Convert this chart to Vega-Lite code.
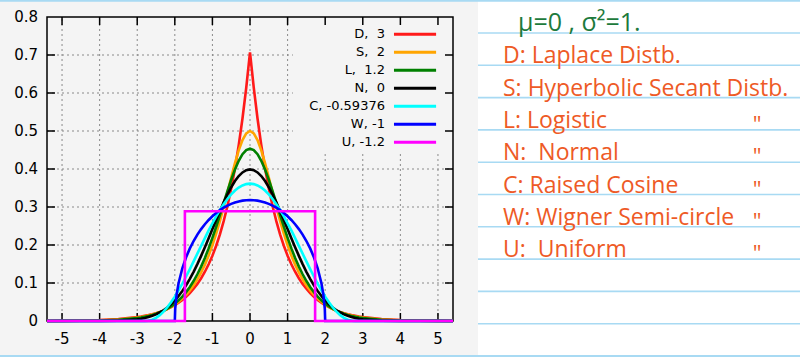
{
  "$schema": "https://vega.github.io/schema/vega-lite/v6.json",
  "width": 800,
  "height": 357,
  "autosize": {"type": "none"},
  "padding": 0,
  "background": "white",
  "config": {"view": {"stroke": null}},
  "datasets": {
    "one": [{}],
    "curves": [
      {"x":-5.4,"D":0.0003,"S":0.0002,"L":0.0001,"N":0,"C":0,"W":0},
      {"x":-5.0,"D":0.0006,"S":0.0004,"L":0.0002,"N":0,"C":0,"W":0},
      {"x":-4.5,"D":0.0012,"S":0.0009,"L":0.0005,"N":0,"C":0,"W":0},
      {"x":-4.0,"D":0.0025,"S":0.0019,"L":0.0013,"N":0.0001,"C":0,"W":0},
      {"x":-3.5,"D":0.0050,"S":0.0041,"L":0.0032,"N":0.0009,"C":0,"W":0},
      {"x":-3.0,"D":0.0102,"S":0.0090,"L":0.0078,"N":0.0044,"C":0,"W":0},
      {"x":-2.9,"D":0.0117,"S":0.0105,"L":0.0093,"N":0.0060,"C":0,"W":0},
      {"x":-2.8,"D":0.0135,"S":0.0123,"L":0.0112,"N":0.0079,"C":0,"W":0},
      {"x":-2.7,"D":0.0155,"S":0.0144,"L":0.0133,"N":0.0104,"C":0.0005,"W":0},
      {"x":-2.6,"D":0.0179,"S":0.0168,"L":0.0159,"N":0.0136,"C":0.0032,"W":0},
      {"x":-2.5,"D":0.0206,"S":0.0197,"L":0.0191,"N":0.0175,"C":0.0082,"W":0},
      {"x":-2.4,"D":0.0237,"S":0.0230,"L":0.0228,"N":0.0224,"C":0.0154,"W":0},
      {"x":-2.3,"D":0.0273,"S":0.0270,"L":0.0271,"N":0.0283,"C":0.0247,"W":0},
      {"x":-2.2,"D":0.0315,"S":0.0315,"L":0.0323,"N":0.0355,"C":0.0361,"W":0},
      {"x":-2.1,"D":0.0363,"S":0.0369,"L":0.0385,"N":0.0440,"C":0.0493,"W":0},
      {"x":-2.0,"D":0.0418,"S":0.0431,"L":0.0458,"N":0.0540,"C":0.0642,"W":0},
      {"x":-1.99,"D":0.0424,"S":0.0438,"L":0.0465,"N":0.0551,"C":0.0658,"W":0.0318},
      {"x":-1.95,"D":0.0449,"S":0.0466,"L":0.0498,"N":0.0596,"C":0.0723,"W":0.0707},
      {"x":-1.9,"D":0.0481,"S":0.0504,"L":0.0543,"N":0.0656,"C":0.0806,"W":0.0994},
      {"x":-1.8,"D":0.0555,"S":0.0590,"L":0.0643,"N":0.0790,"C":0.0984,"W":0.1387},
      {"x":-1.7,"D":0.0639,"S":0.0689,"L":0.0760,"N":0.0940,"C":0.1171,"W":0.1677},
      {"x":-1.6,"D":0.0736,"S":0.0805,"L":0.0895,"N":0.1109,"C":0.1367,"W":0.1910},
      {"x":-1.5,"D":0.0848,"S":0.0939,"L":0.1051,"N":0.1295,"C":0.1568,"W":0.2105},
      {"x":-1.4,"D":0.0976,"S":0.1096,"L":0.1230,"N":0.1497,"C":0.1773,"W":0.2273},
      {"x":-1.3,"D":0.1125,"S":0.1276,"L":0.1432,"N":0.1714,"C":0.1978,"W":0.2419},
      {"x":-1.2,"D":0.1296,"S":0.1484,"L":0.1660,"N":0.1942,"C":0.2182,"W":0.2546},
      {"x":-1.1,"D":0.1492,"S":0.1722,"L":0.1911,"N":0.2179,"C":0.2383,"W":0.2658},
      {"x":-1.0,"D":0.1719,"S":0.1993,"L":0.2186,"N":0.2420,"C":0.2572,"W":0.2757},
      {"x":-0.9,"D":0.1980,"S":0.2297,"L":0.2481,"N":0.2661,"C":0.2752,"W":0.2843},
      {"x":-0.8,"D":0.2281,"S":0.2633,"L":0.2790,"N":0.2897,"C":0.2920,"W":0.2917},
      {"x":-0.7,"D":0.2628,"S":0.2998,"L":0.3105,"N":0.3123,"C":0.3074,"W":0.2982},
      {"x":-0.6,"D":0.3027,"S":0.3382,"L":0.3418,"N":0.3332,"C":0.3212,"W":0.3036},
      {"x":-0.5,"D":0.3487,"S":0.3775,"L":0.3716,"N":0.3521,"C":0.3331,"W":0.3082},
      {"x":-0.4,"D":0.4016,"S":0.4153,"L":0.3986,"N":0.3683,"C":0.3432,"W":0.3119},
      {"x":-0.3,"D":0.4626,"S":0.4492,"L":0.4215,"N":0.3814,"C":0.3511,"W":0.3147},
      {"x":-0.2,"D":0.5329,"S":0.4763,"L":0.4389,"N":0.3910,"C":0.3568,"W":0.3167},
      {"x":-0.1,"D":0.6139,"S":0.4939,"L":0.4497,"N":0.3970,"C":0.3603,"W":0.3179},
      {"x":0,"D":0.7071,"S":0.5,"L":0.4534,"N":0.3989,"C":0.3615,"W":0.3183},
      {"x":0.1,"D":0.6139,"S":0.4939,"L":0.4497,"N":0.3970,"C":0.3603,"W":0.3179},
      {"x":0.2,"D":0.5329,"S":0.4763,"L":0.4389,"N":0.3910,"C":0.3568,"W":0.3167},
      {"x":0.3,"D":0.4626,"S":0.4492,"L":0.4215,"N":0.3814,"C":0.3511,"W":0.3147},
      {"x":0.4,"D":0.4016,"S":0.4153,"L":0.3986,"N":0.3683,"C":0.3432,"W":0.3119},
      {"x":0.5,"D":0.3487,"S":0.3775,"L":0.3716,"N":0.3521,"C":0.3331,"W":0.3082},
      {"x":0.6,"D":0.3027,"S":0.3382,"L":0.3418,"N":0.3332,"C":0.3212,"W":0.3036},
      {"x":0.7,"D":0.2628,"S":0.2998,"L":0.3105,"N":0.3123,"C":0.3074,"W":0.2982},
      {"x":0.8,"D":0.2281,"S":0.2633,"L":0.2790,"N":0.2897,"C":0.2920,"W":0.2917},
      {"x":0.9,"D":0.1980,"S":0.2297,"L":0.2481,"N":0.2661,"C":0.2752,"W":0.2843},
      {"x":1.0,"D":0.1719,"S":0.1993,"L":0.2186,"N":0.2420,"C":0.2572,"W":0.2757},
      {"x":1.1,"D":0.1492,"S":0.1722,"L":0.1911,"N":0.2179,"C":0.2383,"W":0.2658},
      {"x":1.2,"D":0.1296,"S":0.1484,"L":0.1660,"N":0.1942,"C":0.2182,"W":0.2546},
      {"x":1.3,"D":0.1125,"S":0.1276,"L":0.1432,"N":0.1714,"C":0.1978,"W":0.2419},
      {"x":1.4,"D":0.0976,"S":0.1096,"L":0.1230,"N":0.1497,"C":0.1773,"W":0.2273},
      {"x":1.5,"D":0.0848,"S":0.0939,"L":0.1051,"N":0.1295,"C":0.1568,"W":0.2105},
      {"x":1.6,"D":0.0736,"S":0.0805,"L":0.0895,"N":0.1109,"C":0.1367,"W":0.1910},
      {"x":1.7,"D":0.0639,"S":0.0689,"L":0.0760,"N":0.0940,"C":0.1171,"W":0.1677},
      {"x":1.8,"D":0.0555,"S":0.0590,"L":0.0643,"N":0.0790,"C":0.0984,"W":0.1387},
      {"x":1.9,"D":0.0481,"S":0.0504,"L":0.0543,"N":0.0656,"C":0.0806,"W":0.0994},
      {"x":1.95,"D":0.0449,"S":0.0466,"L":0.0498,"N":0.0596,"C":0.0723,"W":0.0707},
      {"x":1.99,"D":0.0424,"S":0.0438,"L":0.0465,"N":0.0551,"C":0.0658,"W":0.0318},
      {"x":2.0,"D":0.0418,"S":0.0431,"L":0.0458,"N":0.0540,"C":0.0642,"W":0},
      {"x":2.1,"D":0.0363,"S":0.0369,"L":0.0385,"N":0.0440,"C":0.0493,"W":0},
      {"x":2.2,"D":0.0315,"S":0.0315,"L":0.0323,"N":0.0355,"C":0.0361,"W":0},
      {"x":2.3,"D":0.0273,"S":0.0270,"L":0.0271,"N":0.0283,"C":0.0247,"W":0},
      {"x":2.4,"D":0.0237,"S":0.0230,"L":0.0228,"N":0.0224,"C":0.0154,"W":0},
      {"x":2.5,"D":0.0206,"S":0.0197,"L":0.0191,"N":0.0175,"C":0.0082,"W":0},
      {"x":2.6,"D":0.0179,"S":0.0168,"L":0.0159,"N":0.0136,"C":0.0032,"W":0},
      {"x":2.7,"D":0.0155,"S":0.0144,"L":0.0133,"N":0.0104,"C":0.0005,"W":0},
      {"x":2.8,"D":0.0135,"S":0.0123,"L":0.0112,"N":0.0079,"C":0,"W":0},
      {"x":2.9,"D":0.0117,"S":0.0105,"L":0.0093,"N":0.0060,"C":0,"W":0},
      {"x":3.0,"D":0.0102,"S":0.0090,"L":0.0078,"N":0.0044,"C":0,"W":0},
      {"x":3.5,"D":0.0050,"S":0.0041,"L":0.0032,"N":0.0009,"C":0,"W":0},
      {"x":4.0,"D":0.0025,"S":0.0019,"L":0.0013,"N":0.0001,"C":0,"W":0},
      {"x":4.5,"D":0.0012,"S":0.0009,"L":0.0005,"N":0,"C":0,"W":0},
      {"x":5.0,"D":0.0006,"S":0.0004,"L":0.0002,"N":0,"C":0,"W":0},
      {"x":5.4,"D":0.0003,"S":0.0002,"L":0.0001,"N":0,"C":0,"W":0}
    ],
    "uni": [
      {"i":0,"x":-5.4,"y":0},
      {"i":1,"x":-1.732,"y":0},
      {"i":2,"x":-1.732,"y":0.2887},
      {"i":3,"x":1.732,"y":0.2887},
      {"i":4,"x":1.732,"y":0},
      {"i":5,"x":5.4,"y":0}
    ],
    "xt": [{"v":-5},{"v":-4},{"v":-3},{"v":-2},{"v":-1},{"v":0},{"v":1},{"v":2},{"v":3},{"v":4},{"v":5}],
    "yt": [{"v":0.1},{"v":0.2},{"v":0.3},{"v":0.4},{"v":0.5},{"v":0.6},{"v":0.7}],
    "yl": [{"v":0},{"v":0.1},{"v":0.2},{"v":0.3},{"v":0.4},{"v":0.5},{"v":0.6},{"v":0.7},{"v":0.8}],
    "leg": [
      {"s":"D","label":"D, \u00a03"},
      {"s":"S","label":"S, \u00a02"},
      {"s":"L","label":"L, \u00a01.2"},
      {"s":"N","label":"N, \u00a00"},
      {"s":"C","label":"C, -0.59376"},
      {"s":"W","label":"W, -1"},
      {"s":"U","label":"U, -1.2"}
    ],
    "notes": [
      {"k":2,"t":"D: Laplace Distb."},
      {"k":3,"t":"S: Hyperbolic Secant Distb."},
      {"k":4,"t":"L: Logistic"},
      {"k":5,"t":"N:\u00a0 Normal"},
      {"k":6,"t":"C: Raised Cosine"},
      {"k":7,"t":"W: Wigner Semi-circle"},
      {"k":8,"t":"U:\u00a0 Uniform"}
    ],
    "ditto": [{"k":4},{"k":5},{"k":6},{"k":7},{"k":8}],
    "rl": [{"k":1},{"k":2},{"k":3},{"k":4},{"k":5},{"k":6},{"k":7},{"k":8},{"k":9},{"k":10}],
    "rb": [{"k":0},{"k":11}]
  },
  "layer": [
    {
      "data": {"name": "one"},
      "mark": {"type": "rect", "fill": "#f4f4f4"},
      "encoding": {
        "x": {"datum": -478, "type": "quantitative", "scale": {"domain": [0, 322], "range": [478, 800], "nice": false, "zero": false}, "axis": null},
        "x2": {"datum": 0},
        "y": {"datum": -0.1, "type": "quantitative", "scale": {"domain": [0, 11], "range": [0.7, 356], "nice": false, "zero": false}, "axis": null},
        "y2": {"datum": 11.1}
      }
    },
    {
      "data": {"name": "rl"},
      "mark": {"type": "rule", "color": "#a8daf3", "strokeWidth": 1.6},
      "encoding": {
        "x": {"datum": 0, "type": "quantitative", "scale": {"domain": [0, 322], "range": [478, 800], "nice": false, "zero": false}, "axis": null},
        "x2": {"datum": 322},
        "y": {"field": "k", "type": "quantitative", "scale": {"domain": [0, 11], "range": [0.7, 356], "nice": false, "zero": false}, "axis": null}
      }
    },
    {
      "data": {"name": "rb"},
      "mark": {"type": "rule", "color": "#a8daf3", "strokeWidth": 2},
      "encoding": {
        "x": {"datum": -478, "type": "quantitative", "scale": {"domain": [0, 322], "range": [478, 800], "nice": false, "zero": false}, "axis": null},
        "x2": {"datum": 322},
        "y": {"field": "k", "type": "quantitative", "scale": {"domain": [0, 11], "range": [0.7, 356], "nice": false, "zero": false}, "axis": null}
      }
    },
    {
      "data": {"name": "one"},
      "mark": {"type": "text", "text": "μ=0 , σ²=1.", "align": "left", "baseline": "alphabetic", "dy": -2, "font": "Open Sans", "fontSize": 25, "color": "#1d7a3c"},
      "encoding": {
        "x": {"datum": 40, "type": "quantitative", "scale": {"domain": [0, 322], "range": [478, 800], "nice": false, "zero": false}, "axis": null},
        "y": {"datum": 1, "type": "quantitative", "scale": {"domain": [0, 11], "range": [0.7, 356], "nice": false, "zero": false}, "axis": null}
      }
    },
    {
      "data": {"name": "notes"},
      "mark": {"type": "text", "align": "left", "baseline": "alphabetic", "dy": -2, "font": "Open Sans", "fontSize": 23, "color": "#ee5a26"},
      "encoding": {
        "x": {"datum": 25, "type": "quantitative", "scale": {"domain": [0, 322], "range": [478, 800], "nice": false, "zero": false}, "axis": null},
        "y": {"field": "k", "type": "quantitative", "scale": {"domain": [0, 11], "range": [0.7, 356], "nice": false, "zero": false}, "axis": null},
        "text": {"field": "t"}
      }
    },
    {
      "data": {"name": "ditto"},
      "mark": {"type": "text", "text": "\"", "align": "center", "baseline": "alphabetic", "dy": 2, "font": "Open Sans", "fontSize": 22, "color": "#ee5a26"},
      "encoding": {
        "x": {"datum": 279, "type": "quantitative", "scale": {"domain": [0, 322], "range": [478, 800], "nice": false, "zero": false}, "axis": null},
        "y": {"field": "k", "type": "quantitative", "scale": {"domain": [0, 11], "range": [0.7, 356], "nice": false, "zero": false}, "axis": null}
      }
    },
    {
      "data": {"name": "xt"},
      "mark": {"type": "rule", "color": "#8a8a8a", "strokeDash": [2, 3], "strokeWidth": 1},
      "encoding": {
        "x": {"field": "v", "type": "quantitative", "scale": {"domain": [-5.4, 5.4], "range": [47, 453], "nice": false, "zero": false}, "axis": null},
        "y": {"datum": 0, "type": "quantitative", "scale": {"domain": [0, 0.8], "range": [321, 17], "nice": false, "zero": false}, "axis": null},
        "y2": {"datum": 0.8}
      }
    },
    {
      "data": {"name": "yt"},
      "mark": {"type": "rule", "color": "#8a8a8a", "strokeDash": [2, 3], "strokeWidth": 1},
      "encoding": {
        "x": {"datum": -5.4, "type": "quantitative", "scale": {"domain": [-5.4, 5.4], "range": [47, 453], "nice": false, "zero": false}, "axis": null},
        "x2": {"datum": 5.4},
        "y": {"field": "v", "type": "quantitative", "scale": {"domain": [0, 0.8], "range": [321, 17], "nice": false, "zero": false}, "axis": null}
      }
    },
    {
      "data": {"name": "one"},
      "mark": {"type": "rect", "fill": "#f4f4f4"},
      "encoding": {
        "x": {"datum": 1.143, "type": "quantitative", "scale": {"domain": [-5.4, 5.4], "range": [47, 453], "nice": false, "zero": false}, "axis": null},
        "x2": {"datum": 5.4},
        "y": {"datum": 0.445, "type": "quantitative", "scale": {"domain": [0, 0.8], "range": [321, 17], "nice": false, "zero": false}, "axis": null},
        "y2": {"datum": 0.8}
      }
    },
    {
      "data": {"name": "one"},
      "mark": {"type": "rect", "filled": false, "stroke": "#000000", "strokeWidth": 1.5},
      "encoding": {
        "x": {"datum": -5.4, "type": "quantitative", "scale": {"domain": [-5.4, 5.4], "range": [47, 453], "nice": false, "zero": false}, "axis": null},
        "x2": {"datum": 5.4},
        "y": {"datum": 0, "type": "quantitative", "scale": {"domain": [0, 0.8], "range": [321, 17], "nice": false, "zero": false}, "axis": null},
        "y2": {"datum": 0.8}
      }
    },
    {
      "data": {"name": "xt"},
      "mark": {"type": "rule", "color": "#000000", "strokeWidth": 1.5},
      "encoding": {
        "x": {"field": "v", "type": "quantitative", "scale": {"domain": [-5.4, 5.4], "range": [47, 453], "nice": false, "zero": false}, "axis": null},
        "y": {"datum": 0, "type": "quantitative", "scale": {"domain": [0, 0.8], "range": [321, 17], "nice": false, "zero": false}, "axis": null},
        "y2": {"datum": 0.021}
      }
    },
    {
      "data": {"name": "xt"},
      "mark": {"type": "rule", "color": "#000000", "strokeWidth": 1.5},
      "encoding": {
        "x": {"field": "v", "type": "quantitative", "scale": {"domain": [-5.4, 5.4], "range": [47, 453], "nice": false, "zero": false}, "axis": null},
        "y": {"datum": 0.779, "type": "quantitative", "scale": {"domain": [0, 0.8], "range": [321, 17], "nice": false, "zero": false}, "axis": null},
        "y2": {"datum": 0.8}
      }
    },
    {
      "data": {"name": "yt"},
      "mark": {"type": "rule", "color": "#000000", "strokeWidth": 1.5},
      "encoding": {
        "x": {"datum": -5.4, "type": "quantitative", "scale": {"domain": [-5.4, 5.4], "range": [47, 453], "nice": false, "zero": false}, "axis": null},
        "x2": {"datum": -5.187},
        "y": {"field": "v", "type": "quantitative", "scale": {"domain": [0, 0.8], "range": [321, 17], "nice": false, "zero": false}, "axis": null}
      }
    },
    {
      "data": {"name": "yt"},
      "mark": {"type": "rule", "color": "#000000", "strokeWidth": 1.5},
      "encoding": {
        "x": {"datum": 5.187, "type": "quantitative", "scale": {"domain": [-5.4, 5.4], "range": [47, 453], "nice": false, "zero": false}, "axis": null},
        "x2": {"datum": 5.4},
        "y": {"field": "v", "type": "quantitative", "scale": {"domain": [0, 0.8], "range": [321, 17], "nice": false, "zero": false}, "axis": null}
      }
    },
    {
      "data": {"name": "xt"},
      "mark": {"type": "text", "align": "center", "baseline": "top", "dy": 11, "font": "DejaVu Sans", "fontSize": 15, "color": "#000000"},
      "encoding": {
        "x": {"field": "v", "type": "quantitative", "scale": {"domain": [-5.4, 5.4], "range": [47, 453], "nice": false, "zero": false}, "axis": null},
        "y": {"datum": 0, "type": "quantitative", "scale": {"domain": [0, 0.8], "range": [321, 17], "nice": false, "zero": false}, "axis": null},
        "text": {"field": "v", "type": "nominal"}
      }
    },
    {
      "data": {"name": "yl"},
      "mark": {"type": "text", "align": "right", "baseline": "middle", "dx": -9, "font": "DejaVu Sans", "fontSize": 15, "color": "#000000"},
      "encoding": {
        "x": {"datum": -5.4, "type": "quantitative", "scale": {"domain": [-5.4, 5.4], "range": [47, 453], "nice": false, "zero": false}, "axis": null},
        "y": {"field": "v", "type": "quantitative", "scale": {"domain": [0, 0.8], "range": [321, 17], "nice": false, "zero": false}, "axis": null},
        "text": {"field": "v", "type": "nominal"}
      }
    },
    {
      "data": {"name": "curves"},
      "transform": [{"fold": ["D", "S", "L", "N", "C", "W"], "as": ["s", "y"]}],
      "mark": {"type": "line", "strokeWidth": 2.6},
      "encoding": {
        "x": {"field": "x", "type": "quantitative", "scale": {"domain": [-5.4, 5.4], "range": [47, 453], "nice": false, "zero": false}, "axis": null},
        "y": {"field": "y", "type": "quantitative", "scale": {"domain": [0, 0.8], "range": [321, 17], "nice": false, "zero": false}, "axis": null},
        "color": {"field": "s", "type": "nominal", "scale": {"domain": ["D", "S", "L", "N", "C", "W"], "range": ["#ff1a1a", "#ffa500", "#008000", "#000000", "#00ffff", "#0000ff"]}, "legend": null}
      }
    },
    {
      "data": {"name": "uni"},
      "mark": {"type": "line", "strokeWidth": 2.6, "color": "#ff00ff"},
      "encoding": {
        "x": {"field": "x", "type": "quantitative", "scale": {"domain": [-5.4, 5.4], "range": [47, 453], "nice": false, "zero": false}, "axis": null},
        "y": {"field": "y", "type": "quantitative", "scale": {"domain": [0, 0.8], "range": [321, 17], "nice": false, "zero": false}, "axis": null},
        "order": {"field": "i", "type": "quantitative"}
      }
    },
    {
      "data": {"name": "leg"},
      "mark": {"type": "text", "align": "right", "baseline": "middle", "font": "DejaVu Sans", "fontSize": 13, "color": "#000000"},
      "encoding": {
        "x": {"datum": 3.59, "type": "quantitative", "scale": {"domain": [-5.4, 5.4], "range": [47, 453], "nice": false, "zero": false}, "axis": null},
        "y": {"field": "s", "type": "nominal", "scale": {"type": "point", "domain": ["D", "S", "L", "N", "C", "W", "U"], "range": [34.3, 142.3], "padding": 0}, "axis": null},
        "text": {"field": "label"}
      }
    },
    {
      "data": {"name": "leg"},
      "mark": {"type": "rule", "strokeWidth": 3},
      "encoding": {
        "x": {"datum": 3.83, "type": "quantitative", "scale": {"domain": [-5.4, 5.4], "range": [47, 453], "nice": false, "zero": false}, "axis": null},
        "x2": {"datum": 4.95},
        "y": {"field": "s", "type": "nominal", "scale": {"type": "point", "domain": ["D", "S", "L", "N", "C", "W", "U"], "range": [34.3, 142.3], "padding": 0}, "axis": null},
        "color": {"field": "s", "type": "nominal", "scale": {"domain": ["D", "S", "L", "N", "C", "W", "U"], "range": ["#ff1a1a", "#ffa500", "#008000", "#000000", "#00ffff", "#0000ff", "#ff00ff"]}, "legend": null}
      }
    }
  ],
  "resolve": {"scale": {"x": "independent", "y": "independent", "color": "independent"}}
}
